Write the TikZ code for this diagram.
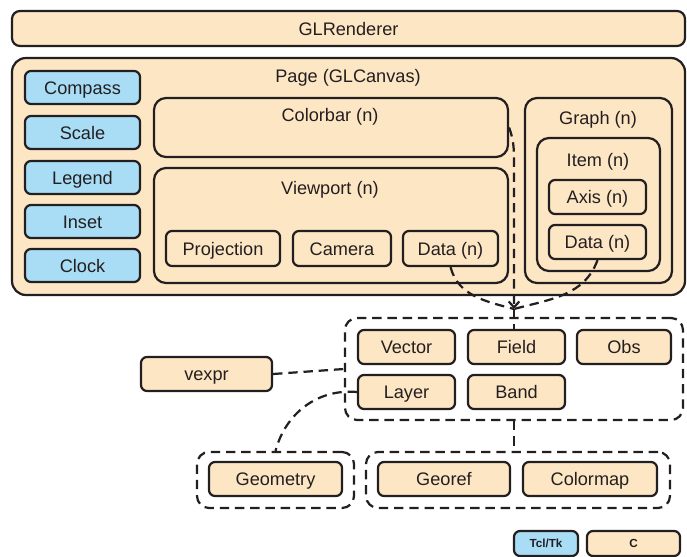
\documentclass[tikz,border=0pt]{standalone}
\usepackage{fontspec}
\setmainfont{Liberation Sans}
\usepackage{tikz}
\usetikzlibrary{positioning, arrows.meta, fit, calc}
\definecolor{cbeige}{HTML}{FDE6C4}
\definecolor{cblue}{HTML}{A8DDF5}
\definecolor{cline}{HTML}{231F20}
\tikzset{
x=0.03cm, y=-0.03cm, % one unit is one pixel of the layout grid
every node/.style={font=\fontsize{15.5}{18}\selectfont, text=cline, text height=14pt, text depth=2.9pt},
box/.style={draw=cline, line width=1.9pt, fill=cbeige, rounded corners=0.18cm, inner sep=0pt}, % a leaf class
tclbox/.style={box, fill=cblue}, % a Tcl/Tk widget
frame/.style={box, rounded corners=0.36cm}, % a container with a title on top
group/.style={draw=cline, line width=1.9pt, dash pattern=on 8pt off 5pt, rounded corners=0.36cm, inner sep=0pt}, % a set of related classes
link/.style={draw=cline, line width=1.9pt, dash pattern=on 8pt off 5pt}, % a dashed relation
title/.style={anchor=center},
legend/.style={font=\fontsize{10}{12}\selectfont\bfseries, text height=9.2pt, text depth=2pt},
}

\begin{document}
\begin{tikzpicture}
\useasboundingbox (0,0) rectangle (687,557);

% renderer and page
\node[box, rounded corners=0.24cm, fit={(12,11) (685,46)}, label=center:GLRenderer] (renderer) {};
\node[frame, rounded corners=0.42cm, fit={(12,58) (685,295)}] (page) {};
\node[title] (pagetitle) at (348,76) {Page (GLCanvas)};

% widgets on the left of the page
\node[tclbox, fit={(25,71) (140,104)}, label=center:Compass] (compass) {};
\node[tclbox, fit={(25,116) (140,149)}, label=center:Scale] (scale) {};
\node[tclbox, fit={(25,161) (140,194)}, label=center:Legend] (legend) {};
\node[tclbox, fit={(25,205) (140,238)}, label=center:Inset] (inset) {};
\node[tclbox, fit={(25,249) (140,282)}, label=center:Clock] (clock) {};

% colorbar and viewport
\node[frame, fit={(154,98) (508,157)}] (colorbar) {};
\node[title] at (330,115) {Colorbar (n)};
\node[frame, fit={(154,168) (508,283)}] (viewport) {};
\node[title] at (330,188) {Viewport (n)};
\node[box, fit={(166,231) (280,266)}, label=center:Projection] (projection) {};
\node[box, fit={(293,231) (391,266)}, label=center:Camera] (camera) {};
\node[box, fit={(403,231) (498,266)}, label=center:Data (n)] (vdata) {};

% graph
\node[frame, fit={(525,98) (672,283)}] (graph) {};
\node[title] at (598,118) {Graph (n)};
\node[frame, fit={(537,138) (660,271)}] (item) {};
\node[title] at (598,160) {Item (n)};
\node[box, fit={(549,180) (646,214)}, label=center:Axis (n)] (axis) {};
\node[box, fit={(549,225) (646,259)}, label=center:Data (n)] (gdata) {};

% data classes
\node[group, fit={(345,318) (683,420)}] (datagroup) {};
\node[box, fit={(358,330) (455,364)}, label=center:Vector] (vector) {};
\node[box, fit={(468,330) (565,364)}, label=center:Field] (field) {};
\node[box, fit={(577,330) (671,364)}, label=center:Obs] (obs) {};
\node[box, fit={(358,375) (455,409)}, label=center:Layer] (layer) {};
\node[box, fit={(468,375) (565,409)}, label=center:Band] (band) {};
\node[box, fit={(141,357) (272,391)}, label=center:vexpr] (vexpr) {};

% support classes
\node[group, fit={(197,452) (354,508)}] (geogroup) {};
\node[box, fit={(209,462) (342,496)}, label=center:Geometry] (geometry) {};
\node[group, fit={(366,452) (670,508)}] (refgroup) {};
\node[box, fit={(378,462) (510,496)}, label=center:Georef] (georef) {};
\node[box, fit={(523,462) (657,496)}, label=center:Colormap] (colormap) {};

% key
\node[tclbox, fit={(514,531) (578,556)}, label={[legend]center:Tcl/Tk}] (keytcl) {};
\node[box, fit={(587,531) (680,556)}, label={[legend]center:C}] (keyc) {};

% relations
\coordinate (merge) at (514,309);
\draw[link] (vdata.south) to[out=-75, in=165] (merge);
\draw[link] (gdata.south) to[out=-110, in=15] (merge);
\draw[link, -{Straight Barb[length=5pt, width=9pt]}] (colorbar.east) to[out=-70, in=90] (merge |- viewport.north) -- (merge);
\draw[link] (merge) -- (merge |- field.north);
\draw[link] (vexpr.east) -- (datagroup.west);
\draw[link] (layer.west) to[out=175, in=75] (geogroup.north);
\draw[link] (datagroup.south) -- (datagroup.south |- refgroup.north);
\end{tikzpicture}
\end{document}
